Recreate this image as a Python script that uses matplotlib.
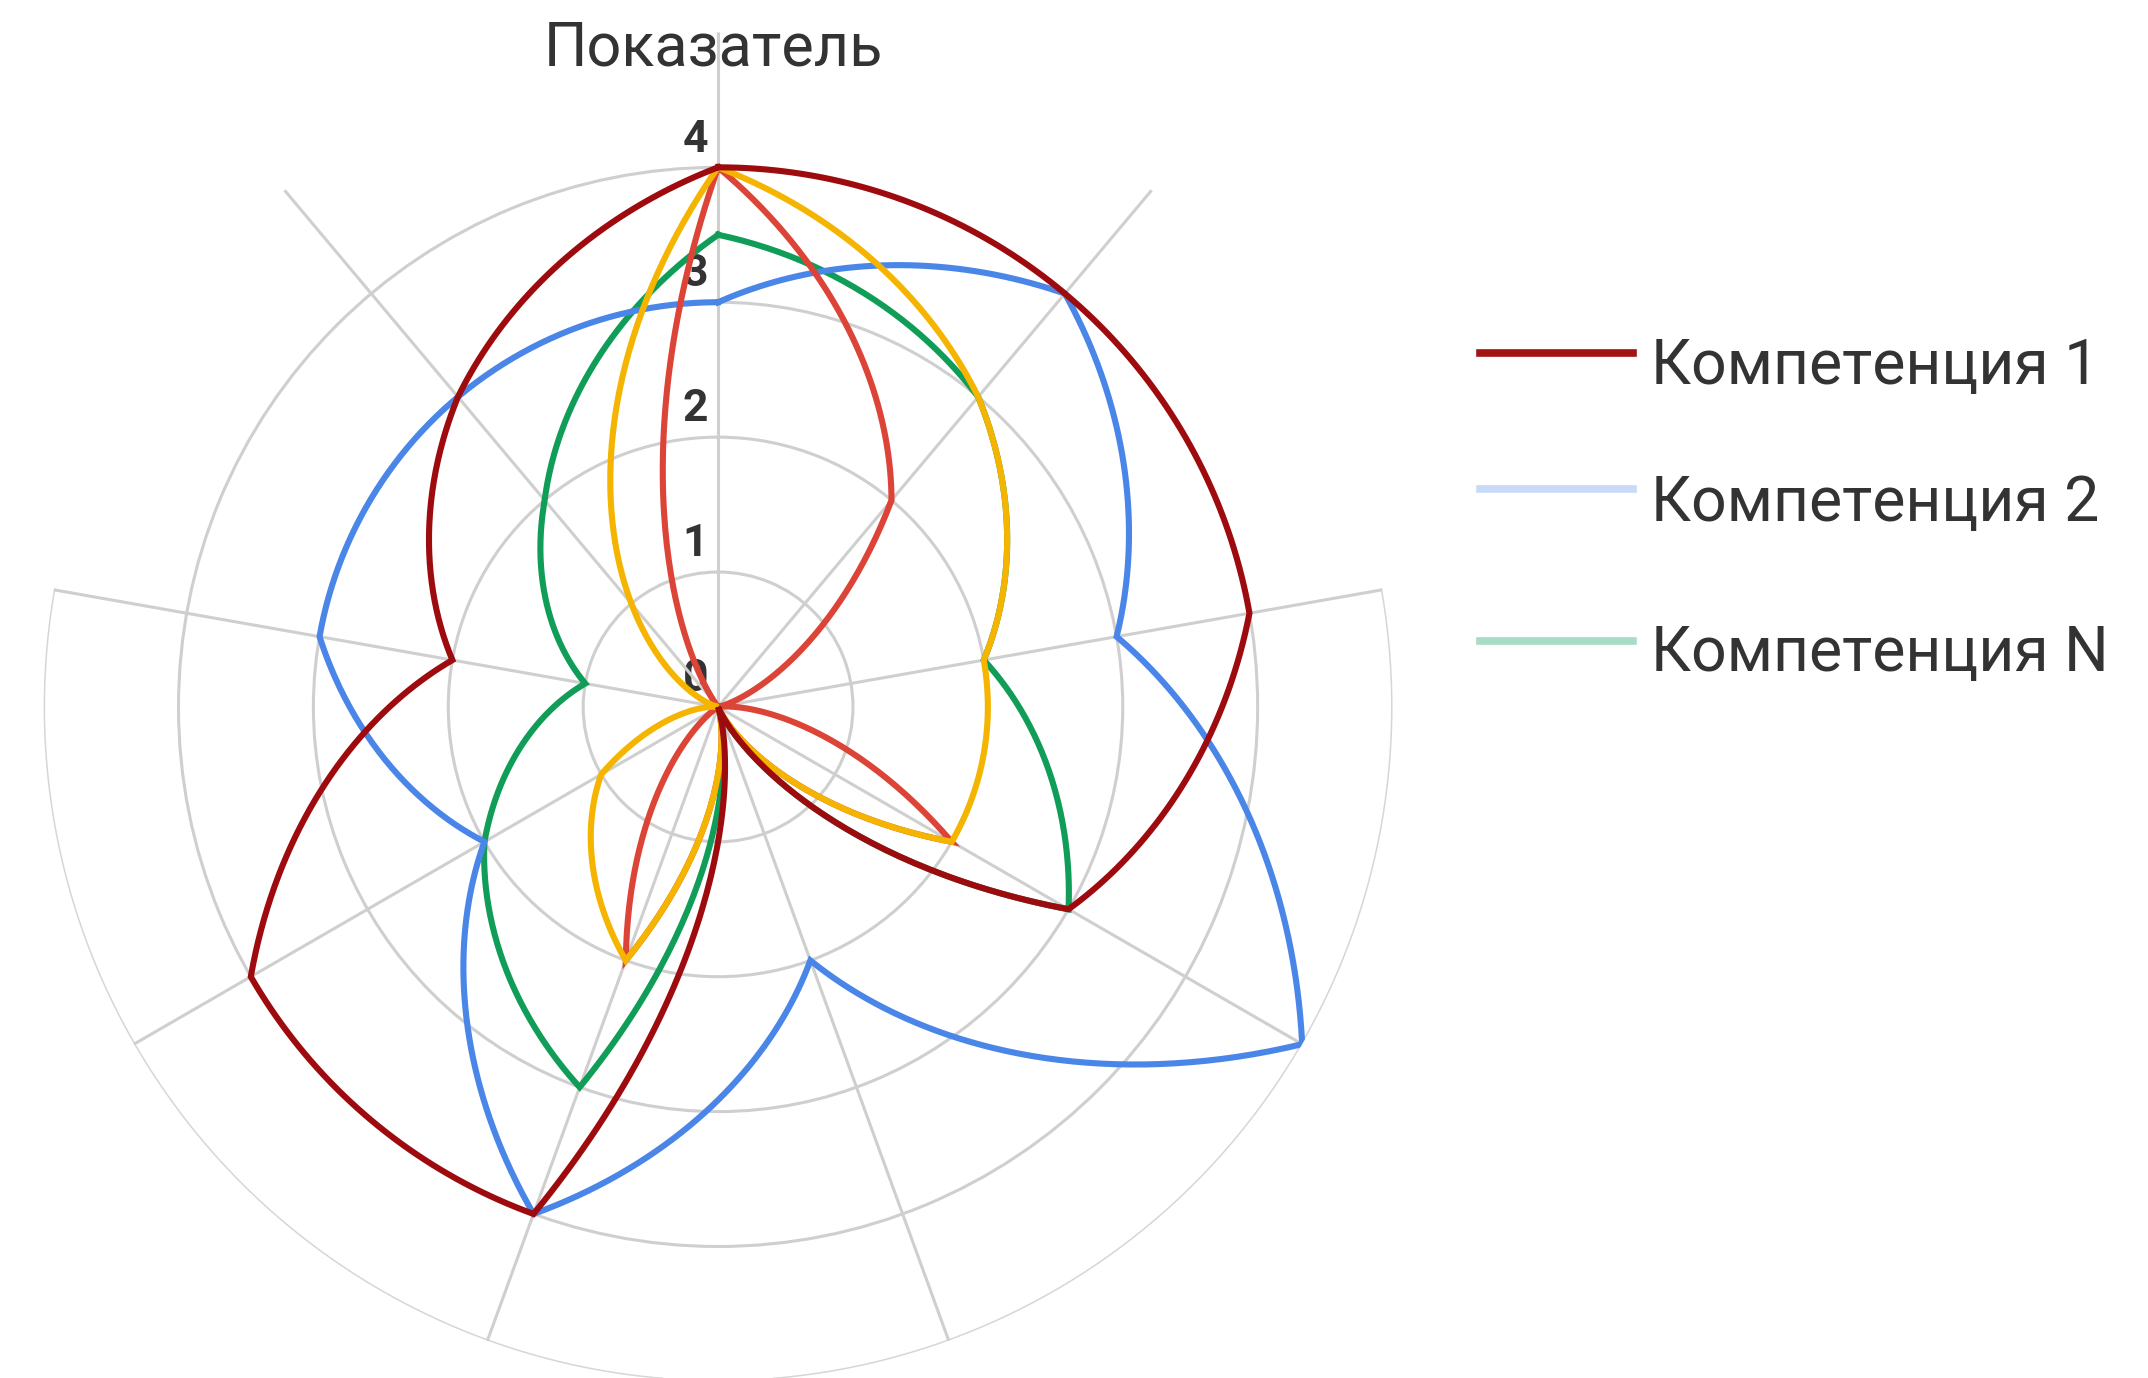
import numpy as np
import matplotlib.pyplot as plt
from matplotlib.path import Path
from matplotlib.lines import Line2D

plt.rcParams['font.family'] = ['Roboto', 'DejaVu Sans']

# 9 unnamed axes, 40 degrees apart, clockwise from the top
angles_deg = [0, 40, 80, 120, 160, 200, 240, 280, 320]
r_ticks = [0, 1, 2, 3, 4]
r_max = 5

comp_1 = [4, 4, 4, 3, 0, 4, 4, 2, 3]
comp_2 = [3, 4, 3, 5, 2, 4, 2, 3, 3]
comp_n = [3.5, 3, 2, 3, 0, 3, 2, 1, 2]
extra_red = [4, 2, 0, 2, 0, 2, 0, 0, 0]
extra_yellow = [4, 3, 2, 2, 0, 2, 1, 0, 1]

title = 'Показатель'
legend_labels = ['Компетенция 1', 'Компетенция 2', 'Компетенция N']
legend_colors = ['#a31515', '#c9daf8', '#a8dcc4']


def curve(values, steps=80):
    # closed loop, smoothed between the axes by matplotlib's path interpolation
    th = np.deg2rad(angles_deg + [360])
    rr = np.sqrt(np.array(values + values[:1], dtype=float))
    p = Path(np.column_stack([th, rr])).interpolated(steps)
    return p.vertices[:, 0], p.vertices[:, 1] ** 2


fig = plt.figure(figsize=(21.48, 13.78), dpi=100)
ax = fig.add_axes([0.0203, -0.0025, 0.628, 0.979], projection='polar')
ax.set_theta_zero_location('N')
ax.set_theta_direction(-1)
ax.set_ylim(0, r_max)

ax.set_xticks(np.deg2rad(angles_deg))
ax.set_xticklabels([])
ax.set_yticks(r_ticks[1:])
ax.set_yticklabels([])
ax.tick_params(length=0)
ax.grid(color='#cfcfcf', linewidth=2.2)
ax.spines['polar'].set_visible(False)

# outer ring only shows on the lower part
arc = np.deg2rad(np.linspace(80, 280, 200))
ax.plot(arc, np.full_like(arc, r_max), color='#d6d6d6', lw=2.2, zorder=1)

for v in r_ticks:
    ax.annotate(str(v), xy=(0, v), xytext=(-7, 20), textcoords='offset points',
                ha='right', va='center', fontsize=32, color='#333333',
                fontweight='bold', zorder=1.5)

series = [
    (comp_n, '#0f9d58'),
    (comp_2, '#4a86e8'),
    (extra_red, '#db4437'),
    (extra_yellow, '#f4b400'),
    (comp_1, '#9e0b0f'),
]
for vals, col in series:
    t, r = curve(vals)
    ax.plot(t, r, color=col, lw=4.4, solid_joinstyle='miter', zorder=3)

fig.text(0.332, 1 - 66 / 1378, title, ha='center', va='baseline',
         fontsize=44, color='#333333')

line_y = [353, 489, 641]
text_y = [384, 521, 671]
for lab, col, ly, ty in zip(legend_labels, legend_colors, line_y, text_y):
    fig.add_artist(Line2D([1480 / 2148, 1633 / 2148], [1 - ly / 1378] * 2,
                          color=col, lw=5.5, transform=fig.transFigure))
    fig.text(1651 / 2148, 1 - ty / 1378, lab, ha='left', va='baseline',
             fontsize=45, color='#333333')

fig.savefig('out.png', dpi=100, facecolor='white')
